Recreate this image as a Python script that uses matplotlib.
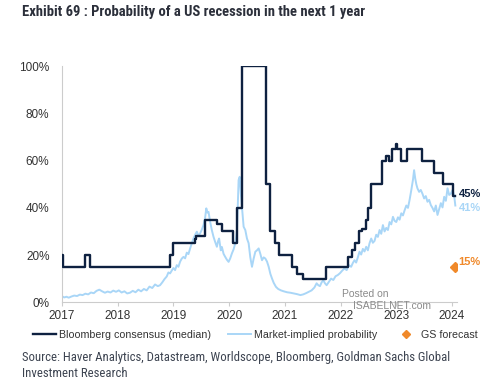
import matplotlib.pyplot as plt
import numpy as np
from matplotlib import font_manager

plt.rcParams['font.family'] = ['Liberation Sans', 'DejaVu Sans']

# Bloomberg consensus (median), step changes: (date, value in %)
bbg_dates = [2017.00, 2017.02, 2017.41, 2017.51, 2018.93, 2018.99, 2019.38, 2019.41,
             2019.57, 2019.79, 2019.88, 2020.07, 2020.15, 2020.23, 2020.66, 2020.74,
             2020.82, 2020.90, 2021.13, 2021.22, 2021.32, 2021.74, 2022.14, 2022.20,
             2022.26, 2022.33, 2022.39, 2022.45, 2022.50, 2022.55, 2022.74, 2022.81,
             2022.87, 2022.92, 2022.99, 2023.02, 2023.09, 2023.19, 2023.47, 2023.68,
             2023.84, 2024.02, 2024.06]
bbg_vals = [20, 15, 20, 15, 20, 25, 27, 28,
            35, 33, 30, 25, 40, 100, 50, 30,
            25, 20, 15, 12, 10, 15, 19, 22,
            25, 30, 31, 35, 40, 50, 60, 62,
            60, 65, 67, 65, 60, 65, 60, 55,
            50, 45, 45]

# Market-implied probability (%)
mkt_dates = [2017.00, 2017.04, 2017.08, 2017.12, 2017.17, 2017.22, 2017.27, 2017.32, 2017.37,
             2017.42, 2017.47, 2017.52, 2017.57, 2017.62, 2017.67, 2017.72, 2017.77, 2017.82,
             2017.87, 2017.92, 2017.97, 2018.02, 2018.07, 2018.12, 2018.17, 2018.22, 2018.27,
             2018.32, 2018.37, 2018.42, 2018.47, 2018.52, 2018.57, 2018.62, 2018.67, 2018.72,
             2018.76, 2018.80, 2018.84, 2018.88, 2018.91, 2018.94, 2018.97, 2019.00, 2019.03,
             2019.06, 2019.09, 2019.12, 2019.15, 2019.18, 2019.21, 2019.24, 2019.27, 2019.30,
             2019.33, 2019.36, 2019.39, 2019.42, 2019.45, 2019.48, 2019.51, 2019.54, 2019.57,
             2019.59, 2019.61, 2019.63, 2019.66, 2019.69, 2019.72, 2019.75, 2019.78, 2019.80,
             2019.82, 2019.85, 2019.87, 2019.90, 2019.93, 2019.96, 2019.99, 2020.02, 2020.05,
             2020.08, 2020.11, 2020.14, 2020.17, 2020.19, 2020.21, 2020.23, 2020.26, 2020.29,
             2020.32, 2020.35, 2020.38, 2020.41, 2020.44, 2020.47, 2020.50, 2020.53, 2020.56,
             2020.59, 2020.62, 2020.65, 2020.68, 2020.71, 2020.74, 2020.77, 2020.80, 2020.84,
             2020.88, 2020.93, 2020.98, 2021.04, 2021.10, 2021.16, 2021.22, 2021.28, 2021.33,
             2021.38, 2021.43, 2021.48, 2021.53, 2021.57, 2021.60, 2021.63, 2021.66, 2021.69,
             2021.72, 2021.75, 2021.79, 2021.83, 2021.87, 2021.91, 2021.95, 2021.99, 2022.03,
             2022.07, 2022.11, 2022.15, 2022.19, 2022.22, 2022.25, 2022.28, 2022.31, 2022.34,
             2022.37, 2022.40, 2022.43, 2022.46, 2022.49, 2022.52, 2022.55, 2022.58, 2022.61,
             2022.64, 2022.67, 2022.70, 2022.73, 2022.76, 2022.79, 2022.82, 2022.85, 2022.88,
             2022.91, 2022.94, 2022.97, 2023.00, 2023.03, 2023.06, 2023.09, 2023.12, 2023.15,
             2023.18, 2023.21, 2023.24, 2023.27, 2023.30, 2023.32, 2023.34, 2023.36, 2023.38,
             2023.41, 2023.44, 2023.47, 2023.50, 2023.53, 2023.56, 2023.59, 2023.62, 2023.65,
             2023.68, 2023.71, 2023.74, 2023.77, 2023.80, 2023.83, 2023.86, 2023.89, 2023.92,
             2023.95, 2023.98, 2024.01, 2024.04, 2024.06]
mkt_vals = [2.5, 2.0, 2.3, 1.9, 2.4, 2.8, 2.6, 3.2, 3.0,
            3.6, 3.3, 4.1, 3.8, 4.8, 5.3, 4.6, 4.0, 4.5,
            4.1, 4.9, 4.4, 5.0, 4.1, 4.6, 3.7, 4.0, 4.8,
            4.2, 5.3, 4.6, 5.6, 5.0, 6.6, 6.0, 7.5, 6.8,
            7.2, 8.4, 9.8, 10.9, 12.6, 12.2, 13.4, 14.5, 13.6,
            15.7, 15.0, 17.2, 18.5, 19.2, 18.6, 21.0, 20.4, 22.8,
            25.0, 27.0, 28.6, 29.9, 28.2, 29.2, 30.8, 32.7, 36.0,
            39.8, 38.0, 38.3, 34.0, 30.5, 27.7, 25.5, 23.5, 25.8,
            27.0, 22.0, 23.4, 20.5, 19.2, 18.0, 17.1, 18.6, 20.7,
            22.4, 25.0, 30.0, 51.8, 53.2, 46.0, 40.5, 32.0, 30.6,
            27.0, 25.0, 19.0, 15.0, 18.5, 21.4, 22.0, 22.8, 20.5,
            17.8, 19.0, 18.5, 17.2, 15.0, 12.0, 10.0, 8.2, 6.5,
            5.6, 5.0, 4.6, 4.2, 4.0, 3.7, 3.4, 3.0, 3.3,
            3.8, 4.4, 5.0, 6.2, 8.0, 7.2, 6.8, 8.4, 9.3,
            8.0, 7.2, 8.6, 10.0, 9.4, 11.0, 11.5, 12.3, 13.4,
            14.3, 13.6, 15.7, 15.0, 16.6, 17.8, 16.8, 19.0, 21.4,
            20.2, 22.6, 21.5, 23.5, 22.0, 25.0, 27.0, 25.2, 26.0,
            28.6, 27.7, 30.6, 29.0, 32.7, 30.0, 31.5, 30.6, 34.0,
            33.0, 36.2, 34.5, 34.0, 36.0, 35.0, 37.7, 36.8, 39.0,
            41.0, 40.0, 43.5, 47.6, 52.0, 56.0, 52.5, 50.0, 48.3,
            46.8, 47.6, 46.0, 44.0, 45.0, 42.6, 43.4, 41.2, 40.0,
            38.5, 41.0, 37.0, 39.5, 42.0, 40.2, 44.7, 43.0, 48.3,
            45.5, 46.0, 47.6, 45.0, 41.0]

# GS forecast
gs_date = [2024.06]
gs_val = [15]

years = [2017, 2018, 2019, 2020, 2021, 2022, 2023, 2024]
yticks = [0, 20, 40, 60, 80, 100]

dark = '#0e2140'
light = '#a9d6f7'
orange = '#f0892a'
txt = '#333333'

# condensed face for title / source if one is there
names = {f.name for f in font_manager.fontManager.ttflist}
cond = None
for cand in ['Liberation Sans Narrow', 'DejaVu Sans Condensed', 'Roboto Condensed',
             'Open Sans Condensed', 'Noto Sans Condensed']:
    if cand in names:
        cond = cand
        break
if cond is None:
    cond_kw = dict(family=['Roboto', 'DejaVu Sans'])
    title_size, src_size = 9.3, 8.3
else:
    cond_kw = dict(family=[cond, 'DejaVu Sans'])
    title_size, src_size = 10.5, 9.2

fig = plt.figure(figsize=(5.0, 3.82), dpi=100)
ax = fig.add_axes([0.124, 0.209, 0.79, 0.617])

l_mkt, = ax.plot(mkt_dates, mkt_vals, color=light, lw=1.4, label='Market-implied probability', zorder=2)
l_bbg, = ax.step(bbg_dates, bbg_vals, where='post', color=dark, lw=1.7,
                 label='Bloomberg consensus (median)', zorder=3)
l_gs, = ax.plot(gs_date, gs_val, marker='D', ms=5.5, color=orange, ls='none', label='GS forecast', zorder=4)

ax.text(2024.12, bbg_vals[-1] + 1, f'{bbg_vals[-1]}%', color=dark, fontsize=8,
        fontweight='bold', va='center', ha='left', clip_on=False)
ax.text(2024.12, 40, f'{mkt_vals[-1]:.0f}%', color=light, fontsize=8,
        fontweight='bold', va='center', ha='left', clip_on=False)
ax.text(2024.12, gs_val[0] + 2, f'{gs_val[0]}%', color=orange, fontsize=8,
        fontweight='bold', va='center', ha='left', clip_on=False)

ax.set_xlim(2017, 2024.09)
ax.set_ylim(0, 100)
ax.set_xticks(years)
ax.set_xticklabels([str(y) for y in years])
ax.set_yticks(yticks)
ax.set_yticklabels([f'{v}%' for v in yticks])

for s in ['top', 'right']:
    ax.spines[s].set_visible(False)
for s in ['left', 'bottom']:
    ax.spines[s].set_color('#cccccc')
    ax.spines[s].set_linewidth(0.8)
ax.tick_params(axis='y', length=0, pad=9, labelsize=8.5, labelcolor=txt)
ax.tick_params(axis='x', length=3, color='#cccccc', pad=3, labelsize=8.5, labelcolor=txt)

# watermark
ax.text(2022.02, 3.5, 'Posted on', color='#8a8a8a', fontsize=7.5, ha='left', va='center')
ax.text(2022.22, -1.8, 'ISABELNET.com', color='#8a8a8a', fontsize=7.5, ha='left', va='center',
        clip_on=False)

fig.text(0.044, 0.968, 'Exhibit 69 : Probability of a US recession in the next 1 year',
         fontsize=title_size, fontweight='bold', color='#2b2f3a', va='center', ha='left',
         **cond_kw)

fig.legend(handles=[l_bbg, l_mkt, l_gs], loc='center', bbox_to_anchor=(0.51, 0.124), ncol=3,
           frameon=False, fontsize=7.7, handlelength=2.15, columnspacing=1.6, handletextpad=0.3,
           labelcolor=txt, markerscale=0.7)

fig.text(0.044, 0.042, 'Source: Haver Analytics, Datastream, Worldscope, Bloomberg, Goldman Sachs Global\nInvestment Research',
         fontsize=src_size, color='#3d4451', va='center', ha='left', linespacing=1.3,
         **cond_kw)

fig.savefig('out.png', dpi=100, facecolor='white')
